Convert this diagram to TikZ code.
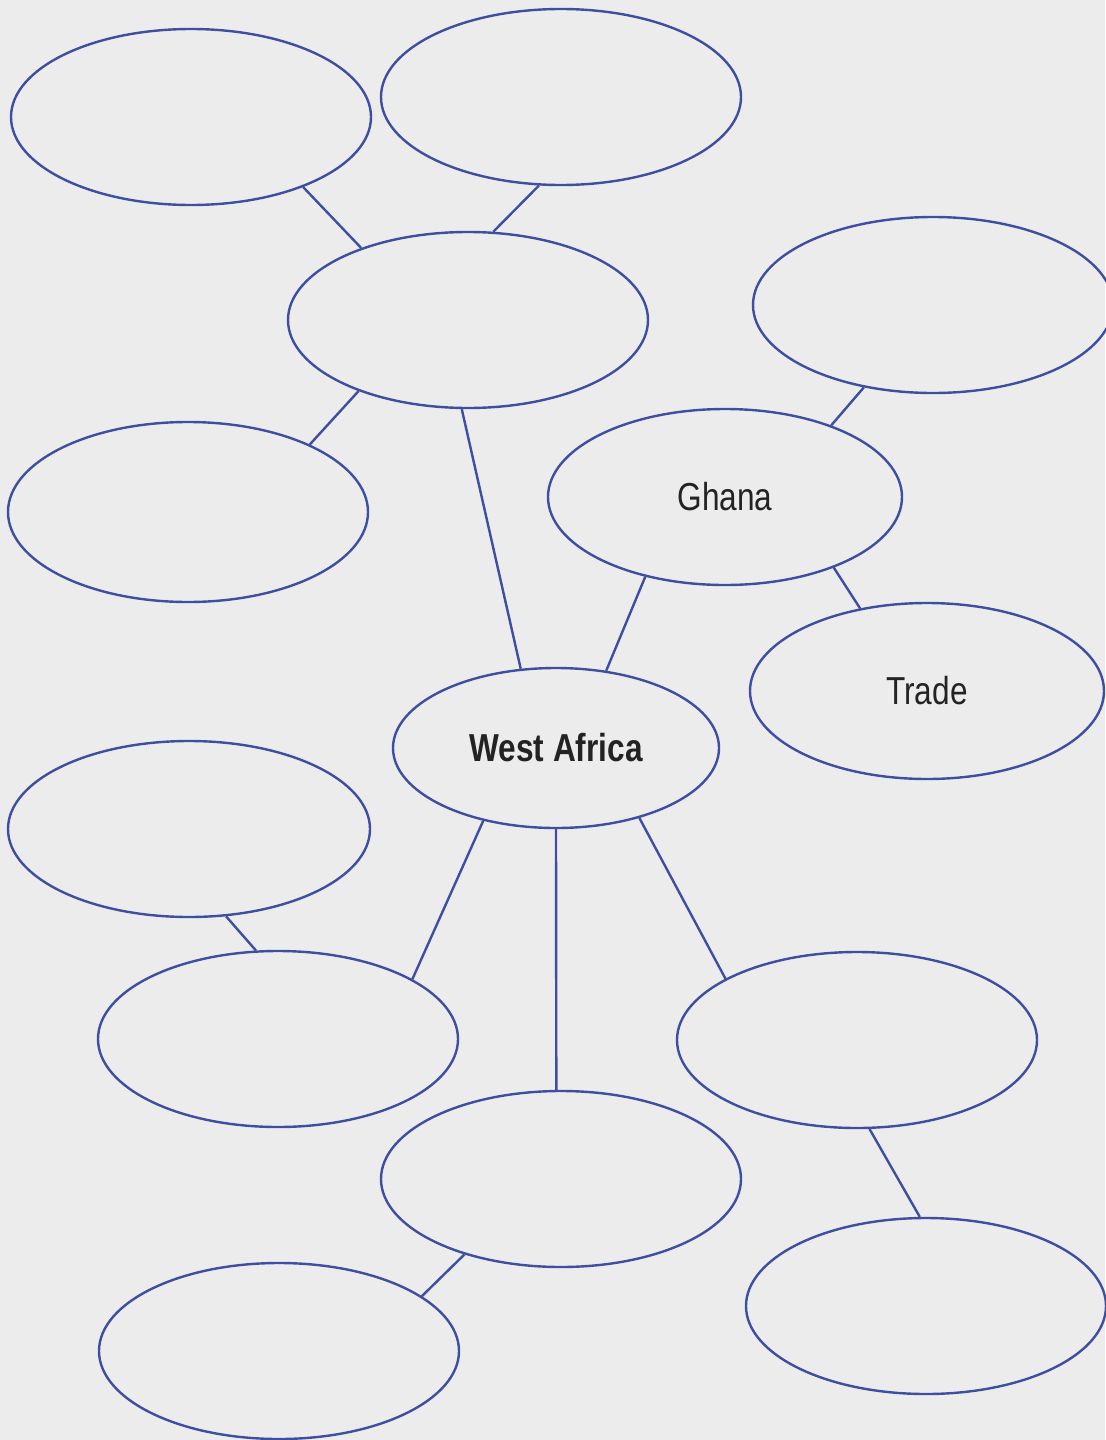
\documentclass[tikz,border=0pt]{standalone}
\usepackage{fontspec}
\usetikzlibrary{shapes.geometric}
\newfontfamily\condsans[FakeStretch=0.81]{Liberation Sans}
\definecolor{webblue}{RGB}{62,78,160}
\definecolor{pagebg}{RGB}{236,236,236}
\definecolor{inkgray}{RGB}{35,35,35}

\begin{document}
\begin{tikzpicture}[
	x=0.5pt, y=-0.5pt,
	bubble/.style={ ellipse, draw=webblue, line width=1.2pt, inner sep=0pt, minimum width=180pt, minimum height=88pt,
		font=\condsans\fontsize{19.5}{22}\selectfont, text=inkgray },
	bubblem/.style={ bubble, minimum width=163pt, minimum height=80pt, font=\condsans\bfseries\fontsize{19.5}{22}\selectfont },
	spoke/.style={ draw=webblue, line width=1.2pt }
]
\fill[pagebg] (0,0) rectangle (1105,1440);
\useasboundingbox (0,0) rectangle (1105,1440);

\node at (556,748) (wafr) [bubblem] {West Africa};

\node at (468,320) (wup) [bubble] {};
\node at (191,117) (wtl) [bubble] {};
\node at (561,97) (wtm) [bubble] {};
\draw[spoke] (wtl.-32) to (wup.146);
\draw[spoke] (wtm.-104) to (wup.74);
\node at (188,512) (wml) [bubble,minimum height=90pt] {};
\draw[spoke] (wup.213) to (wml.29);
\draw[spoke] (wup.-94) to (wafr.114);

\node at (725,497) (wgha) [bubble,minimum width=177pt] {Ghana};
\node at (933,305) (wtr) [bubble] {};
\node at (927,691) (wtra) [bubble,minimum width=177pt] {Trade};
\draw[spoke] (wgha.-135) to (wafr.57);
\draw[spoke] (wgha.34) to (wtr.-130);
\draw[spoke] (wgha.-33) to (wtra.129);

\node at (189,829) (wll) [bubble,minimum width=181pt] {};
\node at (278,1039) (wlc) [bubble] {};
\draw[spoke] (wll.-67) to (wlc.104);
\draw[spoke] (wafr.-135) to (wlc.24);

\node at (561,1179) (wbc) [bubble] {};
\node at (857,1040) (wrc) [bubble] {};
\draw[spoke] (wafr.-90) to (wbc.93);
\draw[spoke] (wafr.-40) to (wrc.155);

\node at (279,1351) (wbl) [bubble] {};
\node at (926,1306) (wbr) [bubble] {};
\draw[spoke] (wbc.-142) to (wbl.21);
\draw[spoke] (wrc.-82) to (wbr.94);

\end{tikzpicture}
\end{document}
